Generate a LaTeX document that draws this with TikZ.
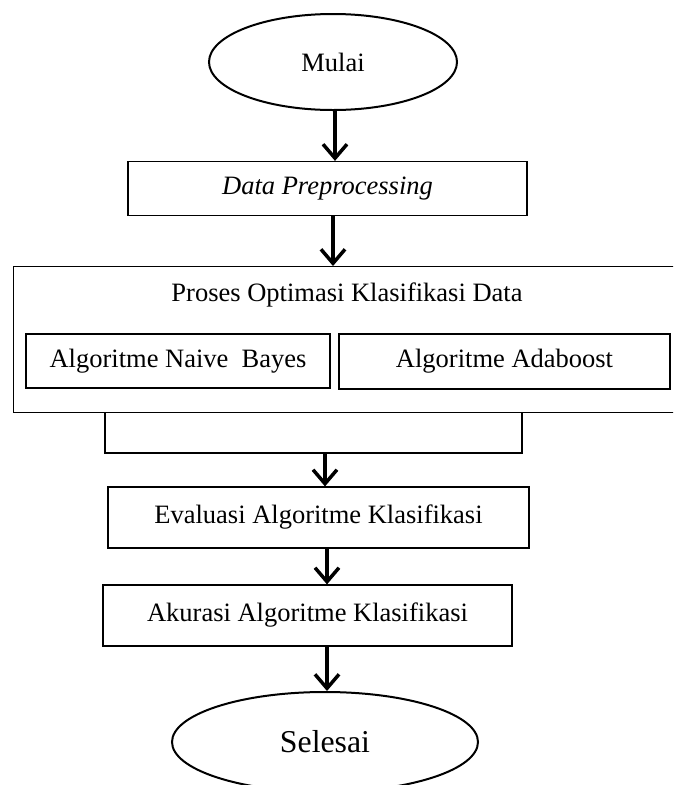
\documentclass[tikz,border=0pt]{standalone}
\usepackage{fontspec}
\setmainfont{Liberation Serif}
\usetikzlibrary{shapes.geometric,arrows.meta}

\begin{document}
\begin{tikzpicture}[x=1pt,y=-1pt,
    teks/.style={font=\fontsize{26.5}{30}\selectfont},
    kotak/.style={draw, line width=1.2pt, inner sep=0pt, teks},
    oval/.style={draw, ellipse, line width=2pt, inner sep=0pt, teks},
    panah/.style={-{Straight Barb[length=14pt,width=24pt]}, line width=3.5pt},
    garis/.style={line width=1.5pt}]

\def \lebar {673}
\def \tinggi {785}
\clip (0,0) rectangle (\lebar,\tinggi);

    \node[oval, minimum width=248pt, minimum height=96pt] (mulai) at (333,62) {Mulai};
    \node[kotak, minimum width=399pt, minimum height=54pt] (prep) at (327.5,188.5) {\itshape Data Preprocessing};

% kotak besar proses optimasi
    \node[kotak, anchor=north west, minimum width=671pt, minimum height=146pt] (optim) at (12.5,266) {};
    \node[teks] (judul) at (347,295) {Proses Optimasi Klasifikasi Data};
    \node[kotak, minimum width=304pt, minimum height=54pt] (nb) at (178,361) {Algoritme Naive\ \ Bayes};
    \node[kotak, minimum width=331pt, minimum height=55pt] (ada) at (504.5,361.5) {Algoritme Adaboost};

    \node[kotak, minimum width=421pt, minimum height=61pt] (eval) at (318.5,517.5) {Evaluasi Algoritme Klasifikasi};
    \node[kotak, minimum width=409pt, minimum height=61pt] (akurasi) at (307.5,615.5) {Akurasi Algoritme Klasifikasi};
    \node[oval, minimum width=306pt, minimum height=100pt, font=\fontsize{31.8}{36}\selectfont] (selesai) at (325,742) {Selesai};

\coordinate (kiri) at (105,412);
\coordinate (kanan) at (522,412);
\coordinate (gabung) at (325,453);

\draw[panah] (mulai.south -| 335,0) -- (prep.north -| 335,0);
\draw[panah] (prep.south -| 333,0) -- (optim.north -| 333,0);
\draw[garis] (kiri) |- (gabung) -| (kanan);
\draw[panah] (gabung) -- (eval.north -| gabung);
\draw[panah] (eval.south -| 327,0) -- (akurasi.north -| 327,0);
\draw[panah] (akurasi.south -| 327,0) -- (selesai.north -| 327,0);
\end{tikzpicture}
\end{document}
